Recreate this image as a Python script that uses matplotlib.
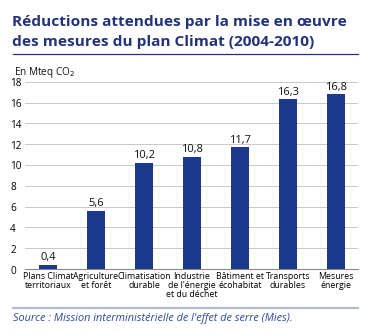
import matplotlib
matplotlib.use("Agg")
import matplotlib.pyplot as plt
import matplotlib.transforms as mtransforms

categories = ["Plans Climat\nterritoriaux", "Agriculture\net forêt", "Climatisation\ndurable",
              "Industrie\nde l'énergie\net du déchet", "Bâtiment et\nécohabitat",
              "Transports\ndurables", "Mesures\nénergie"]
values = [0.4, 5.6, 10.2, 10.8, 11.7, 16.3, 16.8]
value_labels = ["0,4", "5,6", "10,2", "10,8", "11,7", "16,3", "16,8"]
yticks = [0, 2, 4, 6, 8, 10, 12, 14, 16, 18]

navy = "#1c3a8c"
title_blue = "#22337a"

plt.rcParams['font.family'] = ['Open Sans', 'DejaVu Sans']

fig = plt.figure(figsize=(3.76, 3.36), dpi=100)
W, H = 376, 336

# title and rule underneath
fig.text(12 / W, 1 - 26 / H, "Réductions attendues par la mise en œuvre",
         ha="left", va="baseline", fontsize=11.1, fontweight="bold", color=title_blue)
fig.text(12 / W, 1 - 46 / H, "des mesures du plan Climat (2004-2010)",
         ha="left", va="baseline", fontsize=11.1, fontweight="bold", color=title_blue)
fig.add_artist(plt.Line2D([13 / W, 358 / W], [1 - 53.5 / H, 1 - 53.5 / H], color=title_blue, lw=0.9))

ax = fig.add_axes([25 / W, 1 - 269 / H, (358 - 25) / W, (269 - 81.7) / H])
x = list(range(len(values)))
ax.bar(x, values, width=0.38, color=navy, zorder=3)
for xi, v, lab in zip(x, values, value_labels):
    ax.text(xi, v + 0.15, lab, ha="center", va="bottom", fontsize=8, color="#111111")

ax.set_xlim(-0.48, 6.46)
ax.set_ylim(0, 18)
ax.set_yticks(yticks)
ax.set_yticklabels([str(t) for t in yticks], fontsize=7.2)
ax.set_xticks(x)
ax.set_xticklabels(categories, fontsize=6.3, linespacing=1.0)
ax.tick_params(length=0, pad=2)
shift = mtransforms.ScaledTranslation(0, -2 / 100, fig.dpi_scale_trans)
for lab in ax.get_yticklabels():
    lab.set_horizontalalignment("left")
    lab.set_x(-0.036)
    lab.set_verticalalignment("center")
    lab.set_transform(lab.get_transform() + shift)
ax.grid(axis="y", color="#c8c8c8", lw=0.7, zorder=0)
for s in ["top", "right", "left"]:
    ax.spines[s].set_visible(False)
ax.spines["bottom"].set_color("#888888")
ax.spines["bottom"].set_linewidth(0.8)

fig.text(14 / W, 1 - 72 / H, "En Mteq CO$_2$", ha="left", va="center", fontsize=7.2, color="#111111")

# source
fig.add_artist(plt.Line2D([13 / W, 358 / W], [1 - 308 / H, 1 - 308 / H], color="#b4bccf", lw=1.6))
fig.text(13 / W, 1 - 319 / H, "Source : Mission interministérielle de l'effet de serre (Mies).",
         ha="left", va="center", fontsize=7.8, style="italic", color="#2c4a9c")

fig.savefig("out.png", dpi=100, facecolor="white")
